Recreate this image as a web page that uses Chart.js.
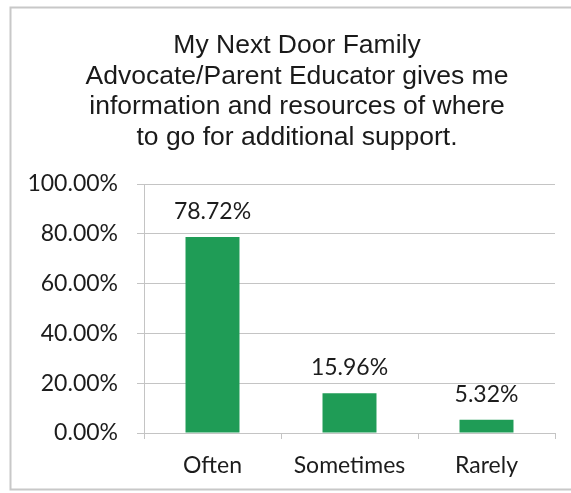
<!DOCTYPE html>
<html>
<head>
<meta charset="utf-8">
<script src="https://cdn.jsdelivr.net/npm/chart.js@4.4.0/dist/chart.umd.min.js"></script>
<style>
  html, body { margin: 0; padding: 0; background: #ffffff; }
  #wrap { width: 571px; height: 493px; position: relative; }
  canvas { display: block; }
</style>
</head>
<body>
<div id="wrap"><canvas id="chart" width="571" height="493"></canvas></div>
<script>
// Survey question and answers
const titleLines = [
  'My Next Door Family',
  'Advocate/Parent Educator gives me',
  'information and resources of where',
  'to go for additional support.'
];
const categories = ['Often', 'Sometimes', 'Rarely'];
const percentages = [78.72, 15.96, 5.32];
const yTickValues = [0, 20, 40, 60, 80, 100];
const yTickLabels = ['0.00%', '20.00%', '40.00%', '60.00%', '80.00%', '100.00%'];

const labelFont = { family: 'Lato', size: 23 };
const textColor = '#1c1c1c';
const gridColor = '#c4c4c4';
const barColor = '#1f9c56';

// Frame lines and the wrapped title
const frameAndTitle = {
  id: 'frameAndTitle',
  beforeDraw(chart) {
    const ctx = chart.ctx;
    ctx.save();
    ctx.fillStyle = '#ffffff';
    ctx.fillRect(0, 0, chart.width, chart.height);
    ctx.strokeStyle = '#c8c8c8';
    ctx.lineWidth = 2;
    ctx.beginPath();
    ctx.moveTo(571, 7.5); ctx.lineTo(10.5, 7.5);
    ctx.lineTo(10.5, 489.5); ctx.lineTo(571, 489.5);
    ctx.stroke();
    ctx.fillStyle = '#1a1a1a';
    ctx.font = '26.5px "Liberation Sans", Arial, sans-serif';
    ctx.textAlign = 'center';
    ctx.textBaseline = 'alphabetic';
    titleLines.forEach((line, i) => {
      ctx.fillText(line, 297, 53 + i * 30.6);
    });
    ctx.restore();
  }
};

// Percentage written above each bar
const valueLabels = {
  id: 'valueLabels',
  afterDatasetsDraw(chart) {
    const ctx = chart.ctx;
    const meta = chart.getDatasetMeta(0);
    ctx.save();
    ctx.fillStyle = textColor;
    ctx.font = labelFont.size + 'px ' + labelFont.family;
    ctx.textAlign = 'center';
    ctx.textBaseline = 'alphabetic';
    meta.data.forEach((bar, i) => {
      ctx.fillText(percentages[i].toFixed(2) + '%', bar.x, bar.y - 18);
    });
    ctx.restore();
  }
};

new Chart(document.getElementById('chart'), {
  type: 'bar',
  data: {
    labels: categories,
    datasets: [{
      data: percentages,
      backgroundColor: barColor,
      borderWidth: 0,
      categoryPercentage: 1,
      barPercentage: 0.394
    }]
  },
  options: {
    responsive: false,
    devicePixelRatio: 1,
    animation: false,
    layout: { padding: { top: 184, right: 16, bottom: 0, left: 0 } },
    plugins: {
      legend: { display: false },
      title: { display: false },
      tooltip: { enabled: false }
    },
    scales: {
      x: {
        grid: { drawOnChartArea: false, drawTicks: true, tickLength: 6, color: gridColor, offset: true },
        border: { color: gridColor, width: 1 },
        ticks: { color: textColor, font: labelFont, padding: 13 },
        afterFit(scale) { scale.height = 60; }
      },
      y: {
        min: 0,
        max: 100,
        afterBuildTicks(scale) { scale.ticks = yTickValues.map(v => ({ value: v })); },
        grid: { color: gridColor, tickLength: 7, drawTicks: true },
        border: { color: gridColor, width: 1 },
        ticks: {
          color: textColor,
          font: labelFont,
          padding: 19,
          callback: (v) => yTickLabels[yTickValues.indexOf(v)]
        },
        afterFit(scale) { scale.width = 144; }
      }
    }
  },
  plugins: [frameAndTitle, valueLabels]
});
</script>
</body>
</html>
